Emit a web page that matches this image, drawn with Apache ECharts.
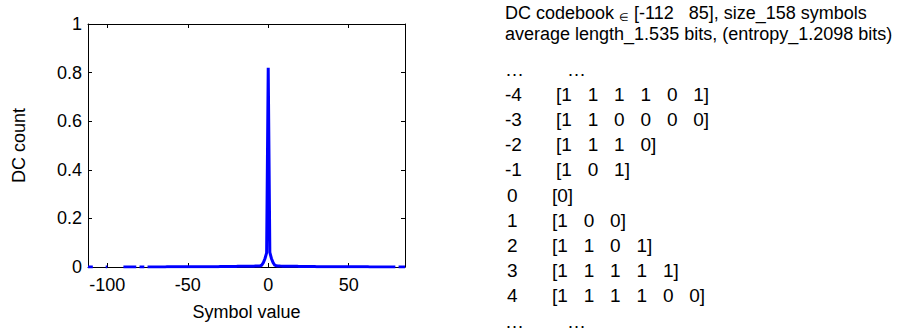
<!DOCTYPE html>
<html>
<head>
<meta charset="utf-8">
<script src="https://cdn.jsdelivr.net/npm/echarts@6/dist/echarts.min.js"></script>
<style>
  html, body { margin: 0; padding: 0; background: #fff; }
  #chart { width: 908px; height: 333px; }
</style>
</head>
<body>
<div id="chart"></div>
<script>
// Symbol range of the DC codebook
const symbolMin = -112;
const symbolMax = 85;

// Normalised DC count per symbol, from -112 up to 85 (null = symbol not in the codebook)
const dcCount = [
  // -112 .. -103
  0.0005, 0.0005, 0.0005, 0.0005, null, null, null, null, null, null,
  // -102 .. -93
  null, 0.0005, 0.0005, null, null, null, null, null, null, null,
  // -92 .. -83
  null, null, 0.0005, 0.0005, 0.0005, 0.0005, 0.0005, 0.0005, 0.0005, 0.0005,
  // -82 .. -73
  0.0005, null, 0.0005, 0.0005, 0.0005, 0.0005, null, 0.0005, 0.0005, 0.0005,
  // -72 .. -63
  0.0005, 0.0005, 0.0005, 0.0005, 0.0005, 0.0005, 0.0005, 0.0005, 0.0005, 0.0006,
  // -62 .. -53
  0.0006, 0.0006, 0.0006, 0.0006, 0.0006, 0.0006, 0.0007, 0.0007, 0.0007, 0.0007,
  // -52 .. -43
  0.0007, 0.0008, 0.0008, 0.0008, 0.0008, 0.0009, 0.0009, 0.0009, 0.0010, 0.0010,
  // -42 .. -33
  0.0010, 0.0011, 0.0011, 0.0011, 0.0012, 0.0012, 0.0013, 0.0013, 0.0014, 0.0014,
  // -32 .. -23
  0.0015, 0.0015, 0.0016, 0.0017, 0.0017, 0.0018, 0.0019, 0.0020, 0.0021, 0.0022,
  // -22 .. -13
  0.0023, 0.0024, 0.0025, 0.0026, 0.0027, 0.0028, 0.0029, 0.0030, 0.0031, 0.0032,
  // -12 .. -3
  0.0033, 0.0034, 0.0035, 0.0036, 0.0037, 0.0038, 0.0040, 0.0045, 0.0080, 0.0180,
  // -2 .. 7
  0.0350, 0.0580, 0.8200, 0.0600, 0.0350, 0.0180, 0.0080, 0.0050, 0.0040, 0.0038,
  // 8 .. 17
  0.0036, 0.0035, 0.0034, 0.0033, 0.0032, 0.0031, 0.0030, 0.0029, 0.0028, 0.0027,
  // 18 .. 27
  0.0026, 0.0025, 0.0024, 0.0023, 0.0022, 0.0021, 0.0020, 0.0019, 0.0018, 0.0017,
  // 28 .. 37
  0.0017, 0.0016, 0.0015, 0.0015, 0.0014, 0.0014, 0.0013, 0.0013, 0.0012, 0.0012,
  // 38 .. 47
  0.0011, 0.0011, 0.0011, 0.0010, 0.0010, 0.0010, 0.0009, 0.0009, 0.0009, 0.0008,
  // 48 .. 57
  0.0008, 0.0008, 0.0008, 0.0007, 0.0007, 0.0007, 0.0007, 0.0007, 0.0006, 0.0006,
  // 58 .. 67
  0.0006, 0.0006, 0.0006, 0.0006, 0.0006, 0.0005, 0.0005, 0.0005, 0.0005, 0.0005,
  // 68 .. 77
  0.0005, 0.0005, 0.0005, 0.0005, 0.0005, 0.0005, 0.0005, 0.0005, 0.0005, 0.0005,
  // 78 .. 85
  0.0005, 0.0005, null, 0.0005, 0.0005, 0.0005, 0.0005, 0.0005
];

// Axis ticks
const xTicks = [-100, -50, 0, 50];

// Header and code table text
const headerLines = [
  ['DC codebook ', '\u2208', ' [-112   85], size_158 symbols'],
  ['average length_1.535 bits, (entropy_1.2098 bits)']
];
const codeSymbols = ['\u2026', '-4', '-3', '-2', '-1', '0', '1', '2', '3', '4', '\u2026'];
const codeWords = [
  '\u2026',
  '[1   1   1   1   0   1]',
  '[1   1   0   0   0   0]',
  '[1   1   1   0]',
  '[1   0   1]',
  '[0]',
  '[1   0   0]',
  '[1   1   0   1]',
  '[1   1   1   1   1]',
  '[1   1   1   1   0   0]',
  '\u2026'
];

const FONT = '"Liberation Sans", Arial, Helvetica, sans-serif';

// Code table layout
const TABLE_FONT = 19;
const ROW_FIRST = 69;
const ROW_STEP = 25.2;

const seriesData = dcCount.map((v, i) => [symbolMin + i, v]);

const chart = echarts.init(document.getElementById('chart'), null, { renderer: 'svg' });

const axisLine = { show: true, onZero: false, lineStyle: { color: '#000', width: 1 } };
const tickStyle = { show: true, inside: true, length: 4, lineStyle: { color: '#000', width: 1 } };

// Right-hand text block: header lines, then the symbol / codeword table
const graphics = [];
headerLines.forEach((parts, li) => {
  const rich = {
    n: { fontSize: 18, fontFamily: FONT, fill: '#000' },
    s: { fontSize: 11, fontFamily: FONT, fill: '#000', padding: [7, 0, 0, 0] }
  };
  const txt = parts.map(p => (p === '\u2208' ? '{s|' + p + '}' : '{n|' + p + '}')).join('');
  graphics.push({
    type: 'text', left: 505, top: 4 + li * 21,
    style: { text: txt, rich: rich, font: '18px ' + FONT, fill: '#000' }
  });
});
codeSymbols.forEach((s, i) => {
  const top = ROW_FIRST + i * ROW_STEP - TABLE_FONT / 2;
  const lower = i >= 5;
  graphics.push({
    type: 'text', left: lower && s !== '\u2026' ? 507 : 505, top: top,
    style: { text: s, font: TABLE_FONT + 'px ' + FONT, fill: '#000' }
  });
  graphics.push({
    type: 'text', left: (s === '\u2026' ? 567 : (lower ? 552 : 556)), top: top,
    style: { text: codeWords[i], font: TABLE_FONT + 'px ' + FONT, fill: '#000' }
  });
});

chart.setOption({
  animation: false,
  backgroundColor: '#fff',
  textStyle: { fontFamily: FONT },
  grid: { left: 88, top: 24, right: 503, bottom: 66, containLabel: false },
  xAxis: [
    {
      type: 'value', min: symbolMin, max: symbolMax,
      axisLine: axisLine,
      axisTick: Object.assign({ customValues: xTicks }, tickStyle),
      axisLabel: { customValues: xTicks, color: '#000', fontSize: 18, margin: 9, fontFamily: FONT },
      splitLine: { show: false },
      name: 'Symbol value', nameLocation: 'middle', nameGap: 36,
      nameTextStyle: { color: '#000', fontSize: 18, fontFamily: FONT }
    },
    {
      type: 'value', min: symbolMin, max: symbolMax, position: 'top',
      axisLine: axisLine,
      axisTick: Object.assign({ customValues: xTicks }, tickStyle),
      axisLabel: { show: false }, splitLine: { show: false }
    }
  ],
  yAxis: [
    {
      type: 'value', min: 0, max: 1, interval: 0.2,
      axisLine: axisLine, axisTick: tickStyle,
      axisLabel: { color: '#000', fontSize: 18, margin: 6, fontFamily: FONT,
                   formatter: v => String(+v.toFixed(1)) },
      splitLine: { show: false },
      name: 'DC count', nameLocation: 'middle', nameRotate: 90, nameGap: 60,
      nameTextStyle: { color: '#000', fontSize: 18, fontFamily: FONT }
    },
    {
      type: 'value', min: 0, max: 1, interval: 0.2, position: 'right',
      axisLine: axisLine, axisTick: tickStyle,
      axisLabel: { show: false }, splitLine: { show: false }
    }
  ],
  series: [{
    type: 'line',
    data: seriesData,
    showSymbol: false,
    connectNulls: false,
    lineStyle: { color: '#0000ff', width: 3, join: 'miter' },
    itemStyle: { color: '#0000ff' },
    z: 3
  }],
  graphic: graphics
});
</script>
</body>
</html>
